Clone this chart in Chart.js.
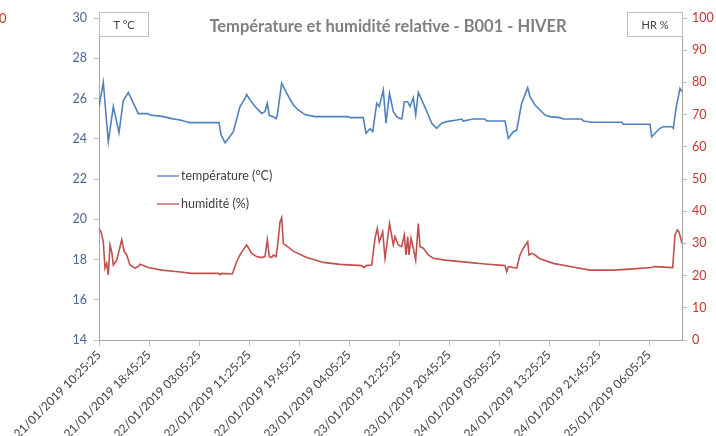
<!DOCTYPE html>
<html>
<head>
<meta charset="utf-8">
<script src="https://cdn.jsdelivr.net/npm/chart.js@4/dist/chart.umd.min.js"></script>
<style>
  body { margin: 0; background: #fff; }
  #wrap { width: 716px; height: 436px; }
</style>
</head>
<body>
<div id="wrap"><canvas id="graphe" width="716" height="436"></canvas></div>
<script>
// temps en minutes depuis le 21/01/2019 10:25:25
const xTickLabels = ['21/01/2019 10:25:25', '21/01/2019 18:45:25', '22/01/2019 03:05:25',
  '22/01/2019 11:25:25', '22/01/2019 19:45:25', '23/01/2019 04:05:25', '23/01/2019 12:25:25',
  '23/01/2019 20:45:25', '24/01/2019 05:05:25', '24/01/2019 13:25:25', '24/01/2019 21:45:25',
  '25/01/2019 06:05:25'];

const tempMinutes = [0, 43, 93, 143, 200, 243, 293, 360, 393, 493, 510, 643, 727, 810, 910, 1200,
  1220, 1260, 1293, 1343, 1410, 1460, 1477, 1510, 1560, 1627, 1660, 1683, 1703, 1743, 1770, 1783,
  1827, 1877, 1943, 1993, 2060, 2160, 2493, 2510, 2643, 2670, 2710, 2737, 2777, 2803, 2843, 2870,
  2905, 2943, 2977, 3010, 3030, 3053, 3087, 3110, 3143, 3167, 3193, 3243, 3293, 3327, 3377, 3427,
  3477, 3577, 3627, 3640, 3743, 3860, 3877, 4060, 4093, 4143, 4177, 4227, 4287, 4310, 4360, 4410,
  4460, 4510, 4610, 4643, 4827, 4843, 4927, 5227, 5243, 5510, 5527, 5560, 5610, 5643, 5727, 5743,
  5770, 5810, 5830];
const temperature = [25.6, 26.8, 23.85, 25.6, 24.3, 25.9, 26.3, 25.6, 25.25, 25.25, 25.18, 25.1,
  25.0, 24.93, 24.8, 24.8, 24.2, 23.8, 24.0, 24.35, 25.6, 26.0, 26.2, 25.93, 25.6, 25.26, 25.35,
  25.76, 25.15, 25.1, 25.0, 25.18, 26.76, 26.26, 25.68, 25.43, 25.2, 25.1, 25.1, 25.05, 25.05,
  24.27, 24.5, 24.35, 25.76, 25.6, 26.42, 24.77, 26.26, 25.35, 25.1, 25.0, 25.0, 25.84, 25.84,
  25.6, 26.04, 25.18, 26.3, 25.76, 25.18, 24.77, 24.52, 24.77, 24.85, 24.93, 24.98, 24.88, 24.98,
  24.98, 24.88, 24.88, 24.02, 24.35, 24.43, 25.76, 26.54, 26.09, 25.68, 25.43, 25.18, 25.1, 25.05,
  24.98, 24.98, 24.88, 24.82, 24.82, 24.72, 24.72, 24.1, 24.27, 24.52, 24.6, 24.6, 24.52, 25.51,
  26.5, 26.34];

const humMinutes = [0, 20, 43, 60, 77, 93, 110, 127, 143, 177, 227, 253, 277, 310, 360, 393, 410,
  493, 627, 793, 927, 1193, 1210, 1225, 1333, 1377, 1410, 1433, 1477, 1527, 1577, 1627, 1660, 1683,
  1703, 1727, 1743, 1770, 1783, 1810, 1827, 1843, 1943, 2077, 2243, 2410, 2627, 2650, 2670, 2727,
  2760, 2783, 2803, 2837, 2860, 2880, 2905, 2943, 2960, 2993, 3027, 3053, 3070, 3087, 3100, 3120,
  3143, 3167, 3193, 3210, 3243, 3293, 3343, 3460, 3693, 3860, 4060, 4077, 4093, 4143, 4177, 4210,
  4243, 4287, 4300, 4327, 4360, 4410, 4543, 4710, 4910, 5143, 5310, 5527, 5550, 5737, 5760, 5783,
  5800, 5817, 5830];
const humidite = [34.5, 33.6, 30.5, 22.3, 23.8, 20.2, 29.5, 27.4, 23.3, 24.8, 31.1, 27.4, 26.4,
  23.3, 22.3, 22.8, 23.5, 22.5, 21.7, 21.2, 20.7, 20.7, 20.3, 20.7, 20.5, 24.3, 26.4, 27.6, 29.5,
  26.9, 25.9, 25.6, 25.9, 31.1, 25.9, 25.6, 26.4, 25.9, 28.5, 36.7, 38.0, 30.0, 27.6, 25.6, 24.1,
  23.5, 23.1, 22.5, 23.1, 23.3, 31.6, 34.7, 30.5, 33.6, 25.4, 30.0, 36.2, 29.5, 32.1, 29.5, 29.0,
  32.6, 26.4, 32.1, 26.4, 31.6, 28.5, 24.8, 36.2, 29.0, 28.5, 26.4, 25.4, 24.8, 24.1, 23.6, 23.1,
  21.2, 22.8, 22.5, 22.3, 26.4, 28.5, 30.5, 26.4, 26.9, 26.4, 25.2, 23.8, 22.8, 21.7, 21.7, 22.0,
  22.5, 22.8, 22.5, 32.6, 34.2, 33.6, 31.6, 30.0];

const bleu = '#4f81bd';
const rouge = '#c0504d';

const decor = {
  id: 'decor',
  afterDraw(chart) {
    const c = chart.ctx;
    const a = chart.chartArea;
    c.save();
    // titre
    c.font = 'bold 16.5px Lato';
    c.fillStyle = '#7f7f7f';
    c.textAlign = 'center';
    c.textBaseline = 'middle';
    c.fillText('Température et humidité relative - B001 - HIVER', 388, 27);
    // cadres des unités
    c.lineWidth = 1;
    c.strokeStyle = '#bfbfbf';
    c.fillStyle = '#fff';
    c.fillRect(a.left, 12, 49, 24);
    c.strokeRect(a.left + 0.5, 12.5, 49, 24);
    c.fillRect(a.right - 55, 12, 55, 24);
    c.strokeRect(a.right - 55 + 0.5, 12.5, 55, 24);
    c.fillStyle = '#404040';
    c.font = '11px Lato';
    c.fillText('T °C', a.left + 25, 25);
    c.fillText('HR %', a.right - 27, 25);
    // légende
    c.textAlign = 'left';
    c.font = '12.5px Lato';
    const leg = [[chart.data.datasets[0], 176], [chart.data.datasets[1], 204]];
    leg.forEach(([ds, y]) => {
      c.strokeStyle = ds.borderColor;
      c.lineWidth = 1.3;
      c.beginPath();
      c.moveTo(157, y);
      c.lineTo(179, y);
      c.stroke();
      c.fillStyle = '#404040';
      c.fillText(ds.label, 181, y);
    });
    // bout d'axe coupé à gauche
    c.fillStyle = '#c0392b';
    c.font = '13px Lato';
    c.fillText('0', -1, 19);
    c.restore();
  }
};

new Chart(document.getElementById('graphe'), {
  type: 'line',
  data: {
    datasets: [{
      label: 'température (°C)',
      data: tempMinutes.map((t, i) => ({ x: t, y: temperature[i] })),
      borderColor: bleu,
      borderWidth: 1.6,
      pointRadius: 0,
      yAxisID: 'y'
    }, {
      label: 'humidité (%)',
      data: humMinutes.map((t, i) => ({ x: t, y: humidite[i] })),
      borderColor: rouge,
      borderWidth: 1.6,
      pointRadius: 0,
      yAxisID: 'y1'
    }]
  },
  options: {
    responsive: false,
    animation: false,
    layout: { padding: { top: 18 } },
    plugins: { legend: { display: false }, tooltip: { enabled: false } },
    scales: {
      x: {
        type: 'linear',
        min: 0,
        max: 5830,
        afterBuildTicks: s => { s.ticks = xTickLabels.map((l, i) => ({ value: i * 500 })); },
        afterFit: s => { s.height = 96; },
        ticks: {
          autoSkip: false,
          minRotation: 45,
          maxRotation: 45,
          padding: 2,
          color: '#404040',
          font: { family: 'Lato', size: 12 },
          callback: (v, i) => xTickLabels[i]
        },
        grid: { drawOnChartArea: false, tickLength: 6, color: '#bfbfbf' },
        border: { color: '#a6a6a6' }
      },
      y: {
        position: 'left',
        min: 14,
        max: 30,
        afterFit: s => { s.width = 99; },
        ticks: { stepSize: 2, padding: 7, color: '#4a6694', font: { family: 'Lato', size: 12.5 } },
        grid: { drawOnChartArea: false, tickLength: 5, color: '#bfbfbf' },
        border: { color: '#a6a6a6' }
      },
      y1: {
        position: 'right',
        min: 0,
        max: 100,
        afterFit: s => { s.width = 34; },
        ticks: { stepSize: 10, padding: 5, color: '#c0392b', font: { family: 'Lato', size: 12.5 } },
        grid: { drawOnChartArea: false, tickLength: 5, color: '#bfbfbf' },
        border: { color: '#a6a6a6' }
      }
    }
  },
  plugins: [decor]
});
</script>
</body>
</html>
